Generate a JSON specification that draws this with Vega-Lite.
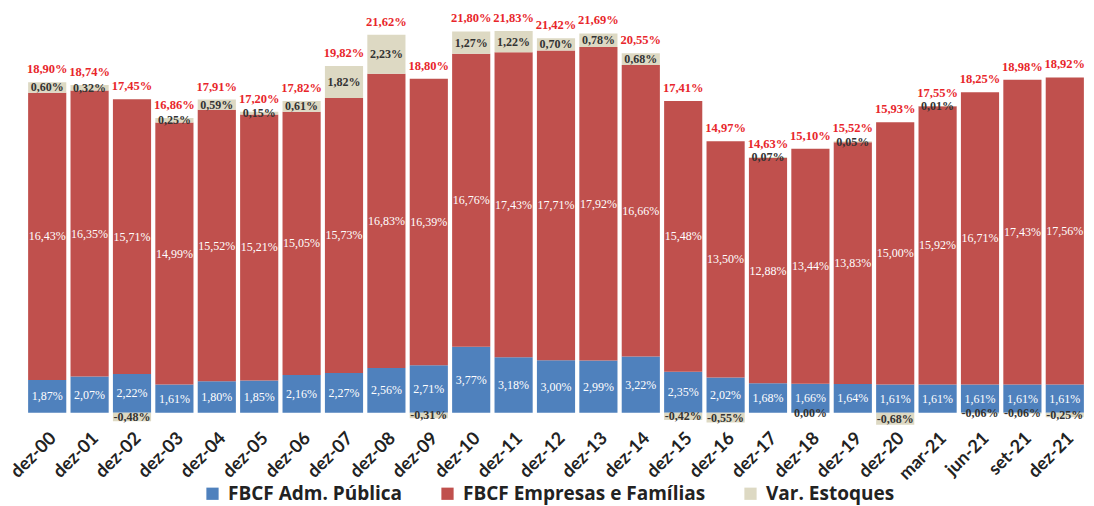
{
  "$schema": "https://vega.github.io/schema/vega-lite/v6.json",
  "width": 1060,
  "height": 425,
  "autosize": {"type": "none"},
  "padding": {"left": 26, "top": 0, "right": 8, "bottom": 81},
  "config": {
    "view": {"stroke": null},
    "locale": {"number": {"decimal": ",", "thousands": ".", "grouping": [3], "currency": ["", "%"], "minus": "-"}}
  },
  "data": {"values": [
    {"cat": "dez-00", "serie": "FBCF Adm. Pública", "valor": 1.87, "total": 18.90},
    {"cat": "dez-00", "serie": "FBCF Empresas e Famílias", "valor": 16.43, "total": 18.90},
    {"cat": "dez-00", "serie": "Var. Estoques", "valor": 0.60, "total": 18.90},
    {"cat": "dez-01", "serie": "FBCF Adm. Pública", "valor": 2.07, "total": 18.74},
    {"cat": "dez-01", "serie": "FBCF Empresas e Famílias", "valor": 16.35, "total": 18.74},
    {"cat": "dez-01", "serie": "Var. Estoques", "valor": 0.32, "total": 18.74},
    {"cat": "dez-02", "serie": "FBCF Adm. Pública", "valor": 2.22, "total": 17.45},
    {"cat": "dez-02", "serie": "FBCF Empresas e Famílias", "valor": 15.71, "total": 17.45},
    {"cat": "dez-02", "serie": "Var. Estoques", "valor": -0.48, "total": 17.45},
    {"cat": "dez-03", "serie": "FBCF Adm. Pública", "valor": 1.61, "total": 16.86},
    {"cat": "dez-03", "serie": "FBCF Empresas e Famílias", "valor": 14.99, "total": 16.86},
    {"cat": "dez-03", "serie": "Var. Estoques", "valor": 0.25, "total": 16.86},
    {"cat": "dez-04", "serie": "FBCF Adm. Pública", "valor": 1.80, "total": 17.91},
    {"cat": "dez-04", "serie": "FBCF Empresas e Famílias", "valor": 15.52, "total": 17.91},
    {"cat": "dez-04", "serie": "Var. Estoques", "valor": 0.59, "total": 17.91},
    {"cat": "dez-05", "serie": "FBCF Adm. Pública", "valor": 1.85, "total": 17.20},
    {"cat": "dez-05", "serie": "FBCF Empresas e Famílias", "valor": 15.21, "total": 17.20},
    {"cat": "dez-05", "serie": "Var. Estoques", "valor": 0.15, "total": 17.20},
    {"cat": "dez-06", "serie": "FBCF Adm. Pública", "valor": 2.16, "total": 17.82},
    {"cat": "dez-06", "serie": "FBCF Empresas e Famílias", "valor": 15.05, "total": 17.82},
    {"cat": "dez-06", "serie": "Var. Estoques", "valor": 0.61, "total": 17.82},
    {"cat": "dez-07", "serie": "FBCF Adm. Pública", "valor": 2.27, "total": 19.82},
    {"cat": "dez-07", "serie": "FBCF Empresas e Famílias", "valor": 15.73, "total": 19.82},
    {"cat": "dez-07", "serie": "Var. Estoques", "valor": 1.82, "total": 19.82},
    {"cat": "dez-08", "serie": "FBCF Adm. Pública", "valor": 2.56, "total": 21.62},
    {"cat": "dez-08", "serie": "FBCF Empresas e Famílias", "valor": 16.83, "total": 21.62},
    {"cat": "dez-08", "serie": "Var. Estoques", "valor": 2.23, "total": 21.62},
    {"cat": "dez-09", "serie": "FBCF Adm. Pública", "valor": 2.71, "total": 18.80},
    {"cat": "dez-09", "serie": "FBCF Empresas e Famílias", "valor": 16.39, "total": 18.80},
    {"cat": "dez-09", "serie": "Var. Estoques", "valor": -0.31, "total": 18.80},
    {"cat": "dez-10", "serie": "FBCF Adm. Pública", "valor": 3.77, "total": 21.80},
    {"cat": "dez-10", "serie": "FBCF Empresas e Famílias", "valor": 16.76, "total": 21.80},
    {"cat": "dez-10", "serie": "Var. Estoques", "valor": 1.27, "total": 21.80},
    {"cat": "dez-11", "serie": "FBCF Adm. Pública", "valor": 3.18, "total": 21.83},
    {"cat": "dez-11", "serie": "FBCF Empresas e Famílias", "valor": 17.43, "total": 21.83},
    {"cat": "dez-11", "serie": "Var. Estoques", "valor": 1.22, "total": 21.83},
    {"cat": "dez-12", "serie": "FBCF Adm. Pública", "valor": 3.00, "total": 21.42},
    {"cat": "dez-12", "serie": "FBCF Empresas e Famílias", "valor": 17.71, "total": 21.42},
    {"cat": "dez-12", "serie": "Var. Estoques", "valor": 0.70, "total": 21.42},
    {"cat": "dez-13", "serie": "FBCF Adm. Pública", "valor": 2.99, "total": 21.69},
    {"cat": "dez-13", "serie": "FBCF Empresas e Famílias", "valor": 17.92, "total": 21.69},
    {"cat": "dez-13", "serie": "Var. Estoques", "valor": 0.78, "total": 21.69},
    {"cat": "dez-14", "serie": "FBCF Adm. Pública", "valor": 3.22, "total": 20.55},
    {"cat": "dez-14", "serie": "FBCF Empresas e Famílias", "valor": 16.66, "total": 20.55},
    {"cat": "dez-14", "serie": "Var. Estoques", "valor": 0.68, "total": 20.55},
    {"cat": "dez-15", "serie": "FBCF Adm. Pública", "valor": 2.35, "total": 17.41},
    {"cat": "dez-15", "serie": "FBCF Empresas e Famílias", "valor": 15.48, "total": 17.41},
    {"cat": "dez-15", "serie": "Var. Estoques", "valor": -0.42, "total": 17.41},
    {"cat": "dez-16", "serie": "FBCF Adm. Pública", "valor": 2.02, "total": 14.97},
    {"cat": "dez-16", "serie": "FBCF Empresas e Famílias", "valor": 13.50, "total": 14.97},
    {"cat": "dez-16", "serie": "Var. Estoques", "valor": -0.55, "total": 14.97},
    {"cat": "dez-17", "serie": "FBCF Adm. Pública", "valor": 1.68, "total": 14.63},
    {"cat": "dez-17", "serie": "FBCF Empresas e Famílias", "valor": 12.88, "total": 14.63},
    {"cat": "dez-17", "serie": "Var. Estoques", "valor": 0.07, "total": 14.63},
    {"cat": "dez-18", "serie": "FBCF Adm. Pública", "valor": 1.66, "total": 15.10},
    {"cat": "dez-18", "serie": "FBCF Empresas e Famílias", "valor": 13.44, "total": 15.10},
    {"cat": "dez-18", "serie": "Var. Estoques", "valor": -0.004, "total": 15.10},
    {"cat": "dez-19", "serie": "FBCF Adm. Pública", "valor": 1.64, "total": 15.52},
    {"cat": "dez-19", "serie": "FBCF Empresas e Famílias", "valor": 13.83, "total": 15.52},
    {"cat": "dez-19", "serie": "Var. Estoques", "valor": 0.05, "total": 15.52},
    {"cat": "dez-20", "serie": "FBCF Adm. Pública", "valor": 1.61, "total": 15.93},
    {"cat": "dez-20", "serie": "FBCF Empresas e Famílias", "valor": 15.00, "total": 15.93},
    {"cat": "dez-20", "serie": "Var. Estoques", "valor": -0.68, "total": 15.93},
    {"cat": "mar-21", "serie": "FBCF Adm. Pública", "valor": 1.61, "total": 17.55},
    {"cat": "mar-21", "serie": "FBCF Empresas e Famílias", "valor": 15.92, "total": 17.55},
    {"cat": "mar-21", "serie": "Var. Estoques", "valor": 0.01, "total": 17.55},
    {"cat": "jun-21", "serie": "FBCF Adm. Pública", "valor": 1.61, "total": 18.25},
    {"cat": "jun-21", "serie": "FBCF Empresas e Famílias", "valor": 16.71, "total": 18.25},
    {"cat": "jun-21", "serie": "Var. Estoques", "valor": -0.06, "total": 18.25},
    {"cat": "set-21", "serie": "FBCF Adm. Pública", "valor": 1.61, "total": 18.98},
    {"cat": "set-21", "serie": "FBCF Empresas e Famílias", "valor": 17.43, "total": 18.98},
    {"cat": "set-21", "serie": "Var. Estoques", "valor": -0.06, "total": 18.98},
    {"cat": "dez-21", "serie": "FBCF Adm. Pública", "valor": 1.61, "total": 18.92},
    {"cat": "dez-21", "serie": "FBCF Empresas e Famílias", "valor": 17.56, "total": 18.92},
    {"cat": "dez-21", "serie": "Var. Estoques", "valor": -0.25, "total": 18.92}
  ]},
  "transform": [
    {"stack": "valor", "groupby": ["cat"], "sort": [{"field": "serie", "order": "ascending"}], "as": ["v0", "v1"]}
  ],
  "encoding": {
    "x": {
      "field": "cat", "type": "ordinal", "sort": null,
      "scale": {"paddingInner": 0.1, "paddingOuter": 0.05},
      "axis": {
        "title": null, "labelAngle": -45, "labelFont": "Lato", "labelFontWeight": "bold",
        "labelFontSize": 18, "labelColor": "#222222", "domain": false, "ticks": false, "labelPadding": 4
      }
    }
  },
  "layer": [
    {
      "mark": {"type": "bar"},
      "encoding": {
        "y": {"field": "v0", "type": "quantitative", "scale": {"domain": [-0.7, 23.6], "nice": false, "zero": false}, "axis": null},
        "y2": {"field": "v1"},
        "color": {
          "field": "serie", "type": "nominal",
          "scale": {"domain": ["FBCF Adm. Pública", "FBCF Empresas e Famílias", "Var. Estoques"], "range": ["#4F81BD", "#C0504D", "#DDD9C3"]},
          "legend": {
            "title": null, "orient": "none", "direction": "horizontal", "legendX": 177, "legendY": 484,
            "symbolType": "square", "symbolSize": 150, "symbolStrokeWidth": 0,
            "labelFont": "Open Sans", "labelFontWeight": "bold", "labelFontSize": 19, "labelColor": "#222222",
            "labelLimit": 400, "columnPadding": 35, "labelOffset": 6
          }
        }
      }
    },
    {
      "transform": [
        {"filter": "datum.serie != 'Var. Estoques'"},
        {"fold": ["v0", "v1"], "as": ["k", "pos"]}
      ],
      "mark": {"type": "text", "font": "Liberation Serif", "fontSize": 12, "color": "white", "baseline": "middle"},
      "encoding": {
        "y": {"aggregate": "mean", "field": "pos", "type": "quantitative"},
        "detail": {"field": "serie"},
        "text": {"aggregate": "max", "field": "valor", "type": "quantitative", "format": "$.2f"}
      }
    },
    {
      "transform": [
        {"filter": "datum.serie == 'Var. Estoques'"},
        {"fold": ["v0", "v1"], "as": ["k", "pos"]}
      ],
      "mark": {"type": "text", "font": "Liberation Serif", "fontSize": 12, "fontWeight": "bold", "color": "#333333", "baseline": "middle"},
      "encoding": {
        "y": {"aggregate": "mean", "field": "pos", "type": "quantitative"},
        "detail": {"field": "serie"},
        "text": {"aggregate": "max", "field": "valor", "type": "quantitative", "format": "$.2f"}
      }
    },
    {
      "transform": [{"filter": "datum.valor > 0"}],
      "mark": {"type": "text", "font": "Liberation Serif", "fontSize": 12.5, "fontWeight": "bold", "color": "#E8262B", "baseline": "bottom", "dy": -6},
      "encoding": {
        "y": {"aggregate": "max", "field": "v1", "type": "quantitative"},
        "text": {"aggregate": "max", "field": "total", "type": "quantitative", "format": "$.2f"}
      }
    }
  ]
}
